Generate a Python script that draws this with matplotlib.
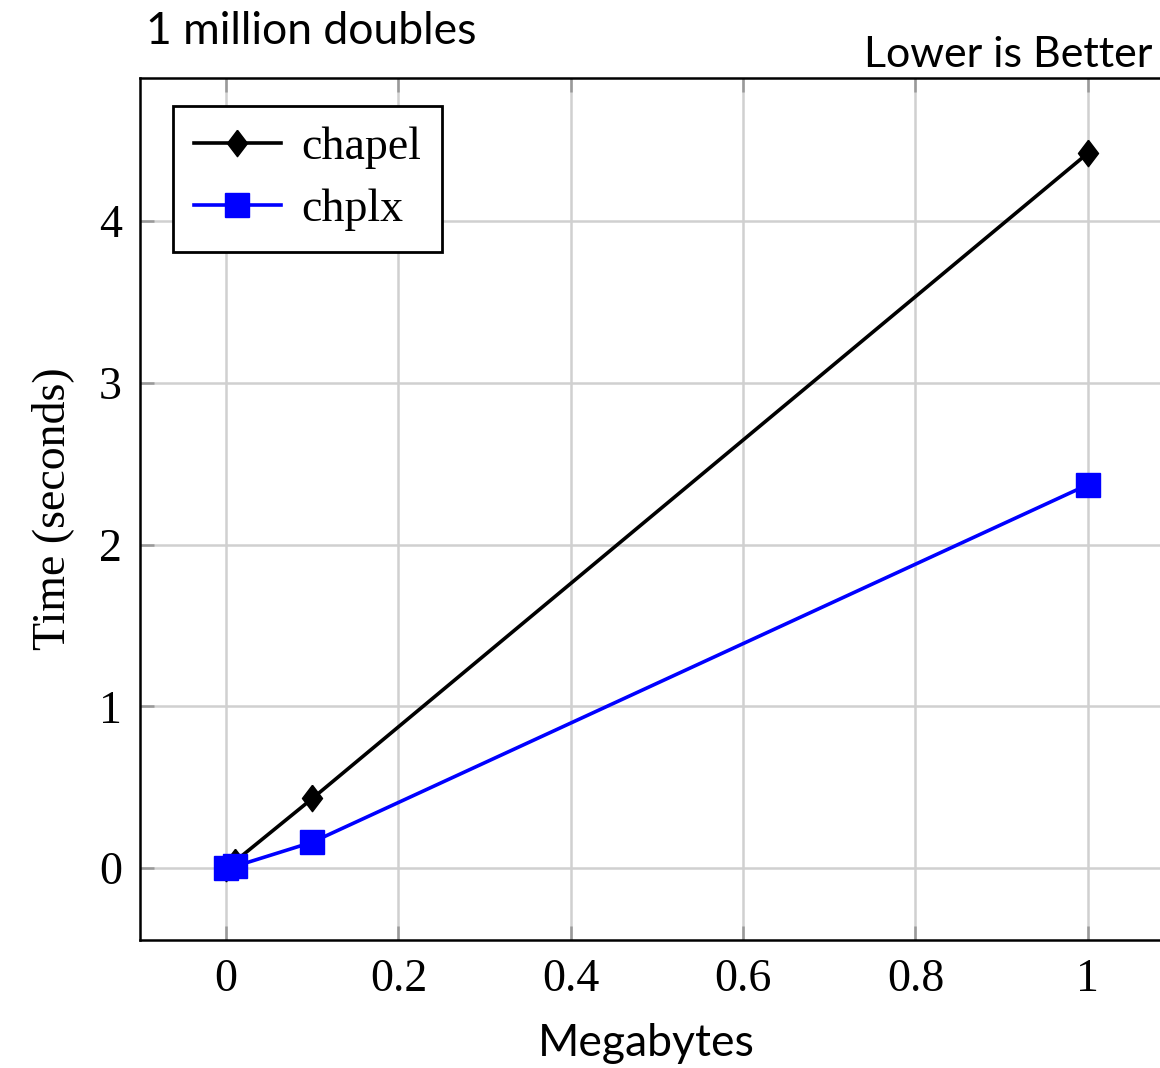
import matplotlib
matplotlib.use("Agg")
import matplotlib.pyplot as plt

# data
megabytes = [0, 0.01, 0.1, 1]
chapel = [0.0, 0.04, 0.43, 4.42]
chplx = [0.0, 0.01, 0.16, 2.37]
xticks = [0, 0.2, 0.4, 0.6, 0.8, 1]
xtick_labels = ["0", "0.2", "0.4", "0.6", "0.8", "1"]
yticks = [0, 1, 2, 3, 4]

serif = "Liberation Serif"
sans = "Lato"

# pgfplots-like diamond, a bit taller than wide
diamond = [(0, 1), (0.76, 0), (0, -1), (-0.76, 0), (0, 1)]

fig = plt.figure(figsize=(11.6, 10.68), dpi=100)
# right edge of the axes runs just past the picture, as in the reference
ax = fig.add_axes([140 / 1160, 128 / 1068, 1034 / 1160, 862 / 1068])

ax.plot(megabytes, chapel, color="black", lw=2.6, marker=diamond, ms=19,
        label="chapel", zorder=3)
ax.plot(megabytes, chplx, color="#0000ff", lw=2.6, marker="s", ms=17,
        label="chplx", zorder=4)

ax.set_xlim(-0.1, 1.1)
ax.set_ylim(-0.445, 4.885)
ax.set_xticks(xticks)
ax.set_xticklabels(xtick_labels)
ax.set_yticks(yticks)
ax.grid(True, color="#d0d0d0", lw=1.8)
ax.set_axisbelow(True)
ax.tick_params(direction="in", length=10, width=1.8, color="#999999",
               top=True, right=True, labelsize=33, pad=13)
for lab in ax.get_xticklabels() + ax.get_yticklabels():
    lab.set_family(serif)
for sp in ax.spines.values():
    sp.set_linewidth(1.8)

ax.set_ylabel("Time (seconds)", family=serif, fontsize=33, labelpad=18)

leg = ax.legend(loc="upper left", bbox_to_anchor=(0.032, 0.9675),
                prop={"family": serif, "size": 33}, frameon=True,
                fancybox=False, edgecolor="black", framealpha=1,
                handlelength=1.9, borderpad=0.45, labelspacing=0.42,
                handletextpad=0.45, borderaxespad=0)
leg.get_frame().set_linewidth(2.0)

fig.text(646 / 1160, 1 - 1043 / 1068, "Megabytes", family=sans,
         fontsize=32, va="center", ha="center")
fig.text(146 / 1160, 1 - 32 / 1068, "1 million doubles", family=sans,
         fontsize=32, va="center", ha="left")
fig.text(1152 / 1160, 1 - 55 / 1068, "Lower is Better", family=sans,
         fontsize=31, va="center", ha="right")

fig.savefig("out.png", dpi=100)
